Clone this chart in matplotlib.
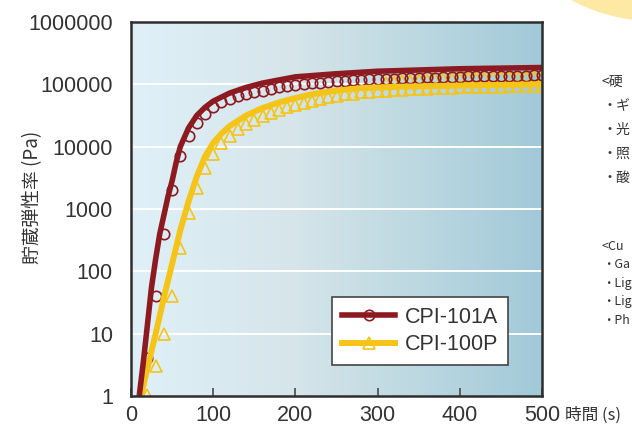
import numpy as np
import matplotlib
matplotlib.use("Agg")
import matplotlib.pyplot as plt
from matplotlib.patches import Ellipse
from matplotlib.lines import Line2D
from matplotlib.colors import LinearSegmentedColormap
from matplotlib.ticker import NullLocator

# ---------------- data ----------------
# CPI-101A solid curve: time (s), storage modulus (Pa)
line_a_t = [10, 15, 20, 25, 30, 35, 40, 45, 50, 55, 60, 70, 80, 90, 100, 120, 140,
            160, 180, 200, 250, 300, 350, 400, 450, 500]
line_a_g = [1, 3.5, 14, 56, 158, 400, 794, 1585, 2818, 5623, 10000, 19950, 31600,
            42660, 53700, 72400, 89100, 104700, 117500, 131800, 147900, 162200,
            169800, 177800, 182000, 186200]

# CPI-101A open-circle markers
mark_t = list(range(20, 501, 10))
mark_a_g = [4.0, 40, 400, 2000, 7100, 14800, 24000, 33000, 42700, 51300, 58900,
            64600, 70800, 75900, 79400, 85100, 89100, 93300, 97700, 102000, 105000,
            107000, 110000, 112000, 115000, 117000, 118000, 120000, 121000, 123000,
            124000, 126000, 125000, 127000, 129000, 128000, 131000, 132000, 131000,
            134000, 135000, 134000, 136000, 137000, 135000, 138000, 137000, 139000,
            140000]

# CPI-100P solid curve
line_p_t = [12, 20, 30, 40, 50, 60, 70, 80, 90, 100, 110, 120, 140, 160, 180, 200,
            220, 250, 280, 320, 400, 500]
line_p_g = [1, 2.8, 10, 38, 132, 457, 1320, 3310, 6920, 11500, 16200, 21400, 31600,
            41700, 51300, 60300, 69200, 79400, 87100, 91200, 95500, 100000]

# CPI-100P open-triangle markers (main row)
mark_p_g = [1.05, 3.0, 10, 40, 234, 850, 2140, 4570, 7760, 11500, 15100, 19100,
            22900, 26900, 30900, 34700, 38900, 42700, 46800, 50100, 55000, 57500,
            61700, 64600, 69200, 70800, 74100, 75900, 77600, 79400, 80500, 82000,
            83200, 84100, 85100, 86300, 87100, 88100, 89100, 89100, 90200, 91200,
            91200, 92300, 93300, 93300, 94400, 95500, 95500]
# CPI-100P triangles of the upper plateau row
mark_p2_t = list(range(310, 501, 10))
mark_p2_g = [107000, 110000, 112000, 115000, 117000, 118000, 120000, 122000, 123000,
             125000, 126000, 127000, 128000, 129000, 130000, 131000, 131000, 132000,
             133000, 133000]

series_names = ["CPI-101A", "CPI-100P"]
y_ticks = [1, 10, 100, 1000, 10000, 100000, 1000000]
y_tick_labels = ["1", "10", "100", "1000", "10000", "100000", "1000000"]
x_ticks = [0, 100, 200, 300, 400, 500]
x_tick_labels = ["0", "100", "200", "300", "400", "500"]

RED = "#8c1a20"
YEL = "#f5c419"
TXT = "#333333"

plt.rcParams["font.family"] = ["Liberation Sans", "Noto Sans CJK JP", "DejaVu Sans"]
CJK = ["Noto Sans CJK JP", "DejaVu Sans"]

fig = plt.figure(figsize=(6.32, 4.26), dpi=100)
fig.patch.set_facecolor("white")

# decorative yellow disc in the top-right corner
fig.add_artist(Ellipse((654 / 632, (426 + 153) / 426), 2 * 174 / 632, 2 * 174 / 426,
                       transform=fig.transFigure, facecolor="#fde9a3",
                       edgecolor="none", zorder=0))

ax = fig.add_axes([131 / 632, 30 / 426, 411 / 632, 374 / 426])
ax.set_yscale("log")

cmap = LinearSegmentedColormap.from_list(
    "bg", [(0, "#dff0f8"), (0.4, "#d5e5ea"), (0.7, "#bcd8e1"), (1, "#a1c9d8")])
ax.imshow(np.linspace(0, 1, 256)[None, :], cmap=cmap, aspect="auto",
          extent=[0, 1, 0, 1], transform=ax.transAxes, zorder=0)

for v in y_ticks[1:-1]:
    ax.axhline(v, color="white", lw=1.4, zorder=1)

# markers (under the lines)
ax.plot(mark_t, mark_p_g, ls="none", marker="^", ms=8.5, mfc="none", mec=YEL,
        mew=1.2, zorder=2)
ax.plot(mark_p2_t, mark_p2_g, ls="none", marker="^", ms=8.5, mfc="none", mec=YEL,
        mew=1.2, zorder=2)
ax.plot(mark_t, mark_a_g, ls="none", marker="o", ms=7.5, mfc="none", mec=RED,
        mew=1.2, zorder=2.5)
# lines
ax.plot(line_p_t, line_p_g, color=YEL, lw=4.3, zorder=3, solid_capstyle="butt")
ax.plot(line_a_t, line_a_g, color=RED, lw=4.0, zorder=3.5, solid_capstyle="butt")

ax.set_xlim(0, 500)
ax.set_ylim(1, 1e6)
ax.yaxis.set_minor_locator(NullLocator())
ax.set_yticks(y_ticks)
ax.set_yticklabels(y_tick_labels)
ax.set_xticks(x_ticks)
ax.set_xticklabels(x_tick_labels)
ax.tick_params(axis="y", length=0, pad=13, labelsize=15.5, labelcolor=TXT)
ax.tick_params(axis="x", direction="in", length=6, width=1.3, color="#555555",
               pad=6.5, labelsize=15.5, labelcolor=TXT)
for s in ax.spines.values():
    s.set_linewidth(1.8)
    s.set_color("#2e2e2e")
    s.set_zorder(5)

handles = [
    Line2D([], [], color=RED, lw=4.0, marker="o", ms=7.5, mfc="none", mec=RED, mew=1.2),
    Line2D([], [], color=YEL, lw=4.3, marker="^", ms=8.5, mfc="none", mec=YEL, mew=1.2),
]
leg = ax.legend(handles, series_names, loc="lower left", bbox_to_anchor=(0.489, 0.083),
                fontsize=15.5, frameon=True, fancybox=False, edgecolor="#444444",
                framealpha=1, borderpad=0.45, handlelength=2.5, handletextpad=0.45,
                labelspacing=0.3, borderaxespad=0, numpoints=1)
leg.get_frame().set_linewidth(1.2)
leg.set_zorder(6)
for t in leg.get_texts():
    t.set_color(TXT)

# axis titles
fig.text(565 / 632, (426 - 420) / 426, "時間 (s)", fontsize=12, color=TXT,
         ha="left", va="baseline", family=CJK)
fig.text(33 / 632, (426 - 197) / 426, "貯蔵弾性率 (Pa)", fontsize=13.5, color=TXT,
         rotation=90, ha="center", va="center", family=CJK)

# side notes (only the part visible inside the reference's frame)
side_jp = [("<硬", 82), ("・ギ", 106), ("・光", 130), ("・照", 154), ("・酸", 178)]
side_en = [("<Cu", 246), ("・Ga", 265), ("・Lig", 283), ("・Lig", 301), ("・Ph", 320)]
for txt, y in side_jp:
    fig.text(602 / 632, (426 - y) / 426, txt, fontsize=10, color=TXT, ha="left",
             va="center", family=CJK)
for txt, y in side_en:
    fig.text(602 / 632, (426 - y) / 426, txt, fontsize=9, color=TXT, ha="left",
             va="center", family=CJK)

fig.savefig("out.png", dpi=100)
